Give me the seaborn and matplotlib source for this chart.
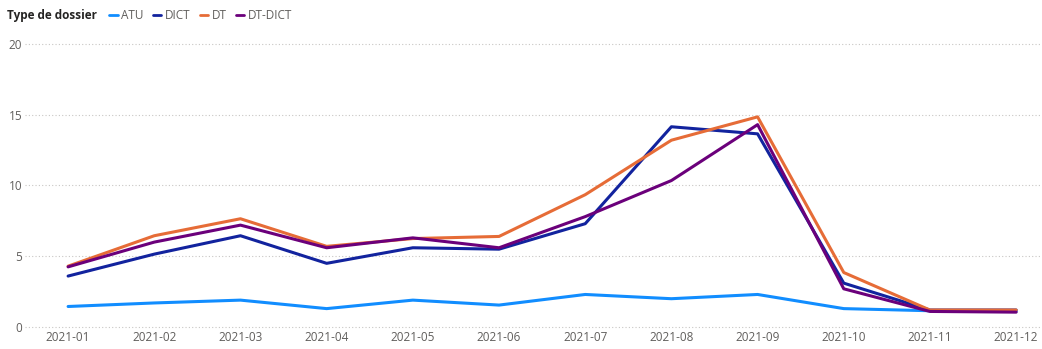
import pandas as pd
import seaborn as sns
import matplotlib.pyplot as plt
from matplotlib.lines import Line2D

months = ['2021-01', '2021-02', '2021-03', '2021-04', '2021-05', '2021-06',
          '2021-07', '2021-08', '2021-09', '2021-10', '2021-11', '2021-12']
atu = [1.45, 1.7, 1.9, 1.3, 1.9, 1.55, 2.3, 2.0, 2.3, 1.3, 1.15, 1.1]
dict_ = [3.6, 5.15, 6.45, 4.5, 5.6, 5.5, 7.3, 14.15, 13.65, 3.1, 1.2, 1.2]
dt = [4.3, 6.45, 7.65, 5.7, 6.25, 6.4, 9.35, 13.2, 14.85, 3.85, 1.2, 1.2]
dt_dict = [4.25, 6.0, 7.2, 5.6, 6.3, 5.6, 7.8, 10.35, 14.3, 2.7, 1.1, 1.05]
types = ['ATU', 'DICT', 'DT', 'DT-DICT']
colors = {'ATU': '#118DFF', 'DICT': '#12239E', 'DT': '#E66C37', 'DT-DICT': '#6B007B'}

df = pd.DataFrame({'Mois': months * 4,
                   'Type': [t for t in types for _ in months],
                   'Nombre': atu + dict_ + dt + dt_dict})
df['x'] = df['Mois'].map({m: i for i, m in enumerate(months)})

sns.set_style('white')
plt.rcParams['font.family'] = ['Open Sans', 'DejaVu Sans']

fig = plt.figure(figsize=(10.42, 3.49), dpi=100)
ax = fig.add_axes([0.024, 0.063, 0.976, 0.811])
sns.lineplot(data=df, x='x', y='Nombre', hue='Type', palette=colors,
             linewidth=2.2, ax=ax, legend=False, clip_on=False)

ax.set_xlim(-0.5, 11.3)
ax.set_ylim(0, 20)
ax.set_xticks(range(len(months)))
ax.set_xticklabels(months)
ax.set_yticks([0, 5, 10, 15, 20])
ax.tick_params(axis='both', length=0, labelsize=8.5, colors='#605E5C', pad=3)
ax.tick_params(axis='y', pad=2)
for lab in ax.get_yticklabels():
    lab.set_horizontalalignment('right')
ax.set_xlabel('')
ax.set_ylabel('')
for y in [0, 5, 10, 15, 20]:
    ax.axhline(y, color='#C8C6C4', linestyle=(0, (1, 2)), linewidth=0.8, zorder=0, clip_on=False)
sns.despine(ax=ax, left=True, bottom=True)

# legend across the top
fig.text(0.007, 0.955, 'Type de dossier', fontsize=8.5, fontweight='bold',
         color='#252423', va='center')
handles = [Line2D([0], [0], color=colors[t], linewidth=2) for t in types]
fig.legend(handles, types, loc='center left', bbox_to_anchor=(0.105, 0.955),
           ncol=4, frameon=False, fontsize=8.5, handlelength=0.7,
           handletextpad=0.3, columnspacing=0.8, borderaxespad=0, borderpad=0,
           labelcolor='#605E5C')

fig.savefig('out.png', dpi=100)
